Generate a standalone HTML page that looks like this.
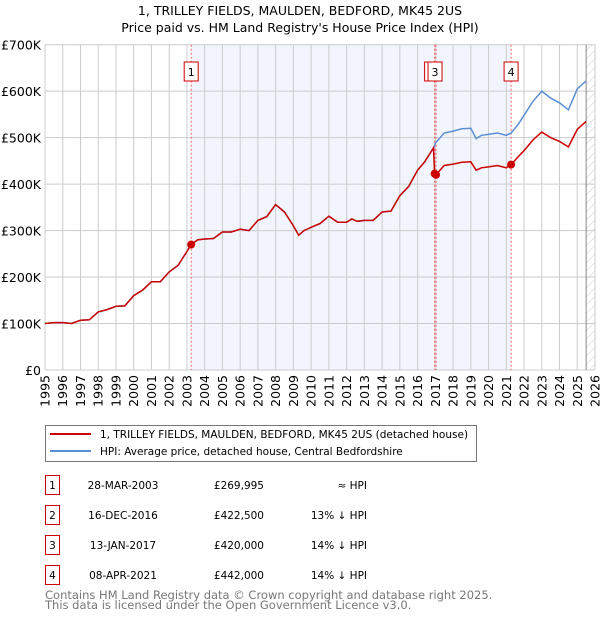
<!DOCTYPE html>
<html><head><meta charset="utf-8"><style>
body{margin:0;background:#fff;font-family:"DejaVu Sans","Liberation Sans",sans-serif;}
svg text{font-family:"DejaVu Sans","Liberation Sans",sans-serif;}
</style></head><body>
<svg id="c" width="600" height="620" xmlns="http://www.w3.org/2000/svg">
<defs><pattern id="hatch" width="6" height="6" patternUnits="userSpaceOnUse" patternTransform="rotate(45)"><line x1="0" y1="0" x2="0" y2="6" stroke="#ccc" stroke-width="1"/></pattern></defs>
<text x="300" y="15" text-anchor="middle" font-size="12.5" fill="#000">1, TRILLEY FIELDS, MAULDEN, BEDFORD, MK45 2US</text>
<text x="300" y="32" text-anchor="middle" font-size="12.5" fill="#000">Price paid vs. HM Land Registry's House Price Index (HPI)</text>
<g id="plot"></g>
<g>
<rect x="45.5" y="425.5" width="431" height="36" fill="#fff" stroke="#777"/>
<line x1="50" y1="434" x2="91" y2="434" stroke="#cc0000" stroke-width="2"/>
<text x="100" y="438" font-size="10.5">1, TRILLEY FIELDS, MAULDEN, BEDFORD, MK45 2US (detached house)</text>
<line x1="50" y1="451" x2="91" y2="451" stroke="#5b8fd4" stroke-width="2"/>
<text x="100" y="455" font-size="10.5">HPI: Average price, detached house, Central Bedfordshire</text>
</g>
<g id="table" font-size="10.5"></g>
<text x="45" y="599" font-size="11.5" fill="#777">Contains HM Land Registry data © Crown copyright and database right 2025.</text>
<text x="45" y="609" font-size="11.5" fill="#777">This data is licensed under the Open Government Licence v3.0.</text>
</svg>
<script>
const years=[1995,1995.5,1996,1996.5,1997,1997.5,1998,1998.5,1999,1999.5,2000,2000.5,2001,2001.5,2002,2002.5,2003,2003.24,2003.6,2004,2004.5,2005,2005.5,2006,2006.5,2007,2007.5,2008,2008.5,2009,2009.3,2009.6,2010,2010.5,2011,2011.5,2012,2012.3,2012.6,2013,2013.5,2014,2014.5,2015,2015.5,2016,2016.4,2016.9,2017.04,2017.5,2018,2018.5,2019,2019.3,2019.6,2020,2020.5,2021,2021.27,2021.7,2022,2022.5,2023,2023.5,2024,2024.5,2025,2025.5];
const hpiValues=[100,102,102,100,107,108,125,130,137,138,160,172,190,190,211,225,255,270,280,282,283,297,297,303,300,322,330,356,340,310,290,300,307,315,331,318,318,325,320,322,322,340,342,375,395,430,448,478,490,510,514,519,520,498,505,507,510,505,510,530,548,578,600,585,575,560,605,622];
const priceValues=[100,102,102,100,107,108,125,130,137,138,160,172,190,190,211,225,255,270,280,282,283,297,297,303,300,322,330,356,340,310,290,300,307,315,331,318,318,325,320,322,322,340,342,375,395,430,448,478,420,440,443,447,448,430,435,437,440,435,442,460,472,495,512,500,492,480,518,535];
const saleLabels=["1","2","3","4"];
const saleYears=[2003.24,2016.96,2017.04,2021.27];
const saleValues=[270,422.5,420,442];
const saleDates=["28-MAR-2003","16-DEC-2016","13-JAN-2017","08-APR-2021"];
const salePrices=["£269,995","£422,500","£420,000","£442,000"];
const saleHpi=["≈ HPI","13% ↓ HPI","14% ↓ HPI","14% ↓ HPI"];
const yTicks=[0,100,200,300,400,500,600,700];
const yTickLabels=["£0","£100K","£200K","£300K","£400K","£500K","£600K","£700K"];
const xTicks=[1995,1996,1997,1998,1999,2000,2001,2002,2003,2004,2005,2006,2007,2008,2009,2010,2011,2012,2013,2014,2015,2016,2017,2018,2019,2020,2021,2022,2023,2024,2025,2026];

const L=45,R=595,T=44.7,B=370;
const X=y=>L+(y-1995)*(R-L)/31;
const Y=v=>B-v*(B-T)/700;
const NS="http://www.w3.org/2000/svg";
const plot=document.getElementById('plot');
function mk(tag,attrs,parent){const e=document.createElementNS(NS,tag);for(const k in attrs)e.setAttribute(k,attrs[k]);(parent||plot).appendChild(e);return e;}

let e=mk('rect',{x:X(saleYears[0]),y:T,width:X(saleYears[3])-X(saleYears[0]),height:B-T,fill:'#f2f5fc'});


e=mk('rect',{x:X(2025.5),y:T,width:R-X(2025.5),height:B-T,fill:'url(#hatch)'});



yTicks.forEach((v,i)=>{
 let g=mk('line',{x1:L,x2:R,y1:Y(v),y2:Y(v),stroke:'#ccc','stroke-width':1});
 
 
 let t=mk('text',{x:L-4,y:Y(v)+5,'text-anchor':'end','font-size':'12.5'});
 t.textContent=yTickLabels[i];
 
 
});
xTicks.forEach(yr=>{
 let g=mk('line',{x1:X(yr),x2:X(yr),y1:T,y2:B,stroke:'#ccc','stroke-width':1});
 
 
 let t=mk('text',{x:0,y:0,'text-anchor':'end','font-size':'12.5',transform:`translate(${X(yr)+4.5},${B+5}) rotate(-90)`});
 t.textContent=yr;
 
 
});
e=mk('line',{x1:X(2025.5),x2:X(2025.5),y1:T,y2:B,stroke:'#888','stroke-width':1});



saleYears.forEach((yr,i)=>{
 let d=mk('line',{x1:X(yr),x2:X(yr),y1:T,y2:B,stroke:'#e66','stroke-width':1,'stroke-dasharray':'2,2'});
 
 
});

let hp=years.map((y,i)=>X(y).toFixed(1)+','+Y(hpiValues[i]).toFixed(1)).join(' ');
e=mk('polyline',{points:hp,fill:'none',stroke:'#5b8fd4','stroke-width':1.5});


let pp=years.map((y,i)=>X(y).toFixed(1)+','+Y(priceValues[i]).toFixed(1));
pp.splice(years.indexOf(2017.04),0,X(saleYears[1]).toFixed(1)+','+Y(saleValues[1]).toFixed(1));
e=mk('polyline',{points:pp.join(' '),fill:'none',stroke:'#cc0000','stroke-width':1.5});



saleYears.forEach((yr,i)=>{
 let c=mk('circle',{cx:X(yr),cy:Y(saleValues[i]),r:4,fill:'#cc0000'});
 
 
});
saleYears.forEach((yr,i)=>{
 let off=(i===1?-3:(i===2?-1:0));
 let r=mk('rect',{x:X(yr)-7+off,y:62,width:14,height:19,fill:'#fff',stroke:'#cc0000'});
 
 
 let t=mk('text',{x:X(yr)+off,y:76,'text-anchor':'middle','font-size':'11'});
 t.textContent=saleLabels[i];
 
 
});

const tb=document.getElementById('table');
saleLabels.forEach((lab,i)=>{
 const cy=483+i*30;
 let r=mk('rect',{x:45.5,y:cy-7.5,width:14,height:19,fill:'#fff',stroke:'#cc0000'},tb);
 
 
 let t=mk('text',{x:52.5,y:cy+6,'text-anchor':'middle'},tb);t.textContent=lab;
 
 
 t=mk('text',{x:123,y:cy+6,'text-anchor':'middle'},tb);t.textContent=saleDates[i];
 
 
 t=mk('text',{x:264,y:cy+6,'text-anchor':'end'},tb);t.textContent=salePrices[i];
 
 
 t=mk('text',{x:367,y:cy+6,'text-anchor':'end'},tb);t.textContent=saleHpi[i];
 
 
});
</script>
</body></html>
